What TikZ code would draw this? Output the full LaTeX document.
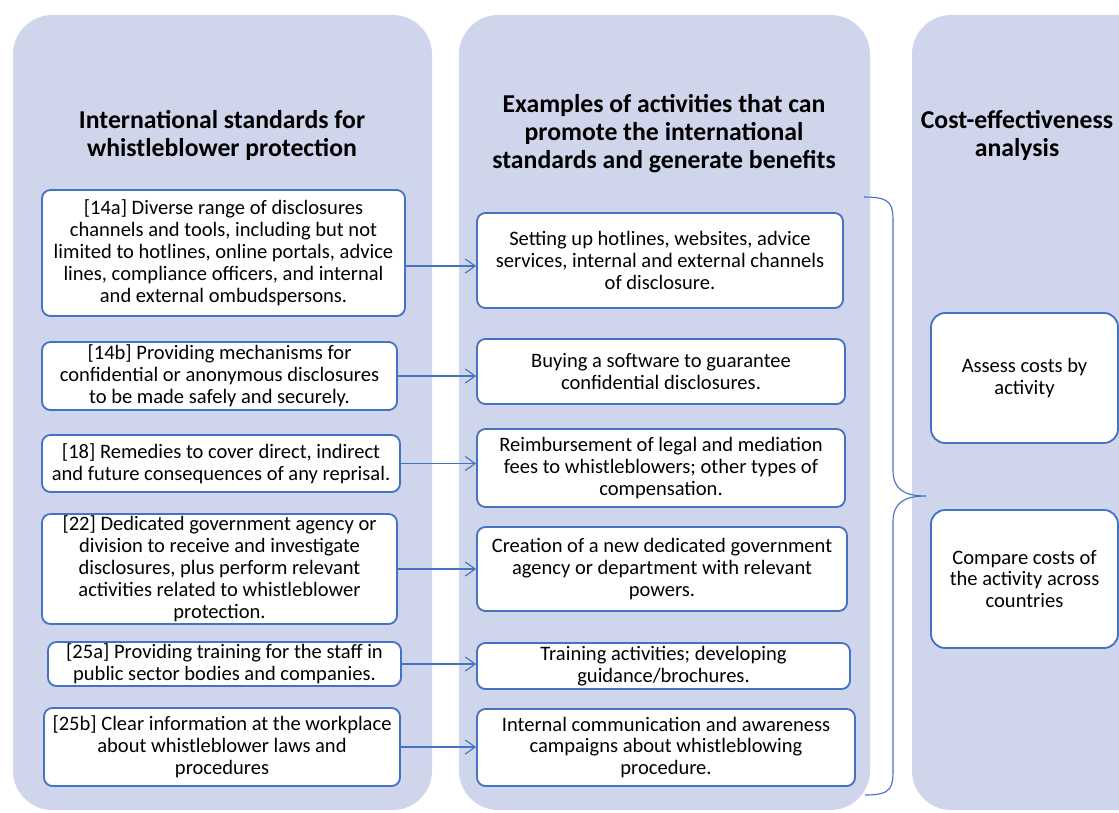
\documentclass[tikz,border=0pt]{standalone}
\usepackage{fontspec}
\setmainfont{Carlito}
\usetikzlibrary{positioning}
\usetikzlibrary{arrows.meta}
\definecolor{panelblue}{RGB}{207,213,234}
\definecolor{boxblue}{RGB}{68,114,196}

\begin{document}
\begin{tikzpicture}[x=0.025cm,y=-0.025cm,
  colpanel/.style={fill=panelblue, rounded corners=28pt},
  coltitle/.style={align=center, font=\bfseries\fontsize{18.3}{19.9}\selectfont},
  stdbox/.style={draw=boxblue, line width=1.3pt, fill=white, rounded corners=6pt,
    align=center, inner sep=0pt, font=\fontsize{14.6}{15.6}\selectfont},
  sz/.style 2 args={minimum width=#1*0.025cm, minimum height=#2*0.025cm},
  arr/.style={draw=boxblue, line width=0.8pt, -{Straight Barb[length=7pt,width=10pt]}}]
\useasboundingbox (0,0) rectangle (1119,812);
\clip (0,0) rectangle (1119,812);
% columns
\fill[colpanel] (13,15) rectangle (432,810);
\fill[colpanel] (459,15) rectangle (870,810);
\fill[colpanel] (912,15) rectangle (1170,810);
\node[coltitle] (t1) at (222,135) {International standards for\\ whistleblower protection};
\node[coltitle] (t2) at (664,134) {Examples of activities that can\\ promote the international\\ standards and generate benefits};
\node[coltitle] (t3) at (1017,135) {Cost-effectiveness\\ analysis};
% standards
\node[stdbox, sz={363}{126}] (L1) at (223.5,253) {[14a] Diverse range of disclosures\\ channels and tools, including but not\\ limited to hotlines, online portals, advice\\ lines, compliance officers, and internal\\ and external ombudspersons.};
\node[stdbox, sz={355}{68}] (L2) at (219.5,376) {[14b] Providing mechanisms for\\ confidential or anonymous disclosures\\ to be made safely and securely.};
\node[stdbox, sz={358}{57}] (L3) at (221,463.5) {[18] Remedies to cover direct, indirect\\ and future consequences of any reprisal.};
\node[stdbox, sz={355}{110}] (L4) at (219.5,569) {[22] Dedicated government agency or\\ division to receive and investigate\\ disclosures, plus perform relevant\\ activities related to whistleblower\\ protection.};
\node[stdbox, sz={353}{44}] (L5) at (224.5,664) {[25a] Providing training for the staff in\\ public sector bodies and companies.};
\node[stdbox, sz={356}{78}] (L6) at (222,747) {[25b] Clear information at the workplace\\ about whistleblower laws and\\ procedures};
% activities
\node[stdbox, sz={366}{95}] (M1) at (660,260.5) {Setting up hotlines, websites, advice\\ services, internal and external channels\\ of disclosure.};
\node[stdbox, sz={368}{65}] (M2) at (661,371.5) {Buying a software to guarantee\\ confidential disclosures.};
\node[stdbox, sz={368}{78}] (M3) at (661,468) {Reimbursement of legal and mediation\\ fees to whistleblowers; other types of\\ compensation.};
\node[stdbox, sz={370}{84}] (M4) at (662,569) {Creation of a new dedicated government\\ agency or department with relevant\\ powers.};
\node[stdbox, sz={373}{46}] (M5) at (663.5,666) {Training activities; developing\\ guidance/brochures.};
\node[stdbox, sz={378}{77}] (M6) at (666,747.5) {Internal communication and awareness\\ campaigns about whistleblowing\\ procedure.};
% analysis
\node[stdbox, sz={187}{130}, rounded corners=10pt] (R1) at (1024.5,378) {Assess costs by\\ activity};
\node[stdbox, sz={187}{138}, rounded corners=10pt] (R2) at (1024.5,579) {Compare costs of\\ the activity across\\ countries};
% arrows
\coordinate (a1) at ([yshift=-0.325cm]L1.east);
\draw[arr] (a1) -- (a1 -| M1.west);
\draw[arr] (L2.east) -- (L2.east -| M2.west);
\draw[arr] (L3.east) -- (L3.east -| M3.west);
\draw[arr] (L4.east) -- (L4.east -| M4.west);
\draw[arr] (L5.east) -- (L5.east -| M5.west);
\draw[arr] (L6.east) -- (L6.east -| M6.west);
% brace
\draw[boxblue, line width=0.8pt] (864,197) .. controls (893,197) and (893,205) .. (893,225)
  -- (893,470) .. controls (893,490) and (905,496) .. (926,496)
  .. controls (905,496) and (893,502) .. (893,522)
  -- (893,767) .. controls (893,787) and (893,795) .. (865,795);
\end{tikzpicture}
\end{document}
